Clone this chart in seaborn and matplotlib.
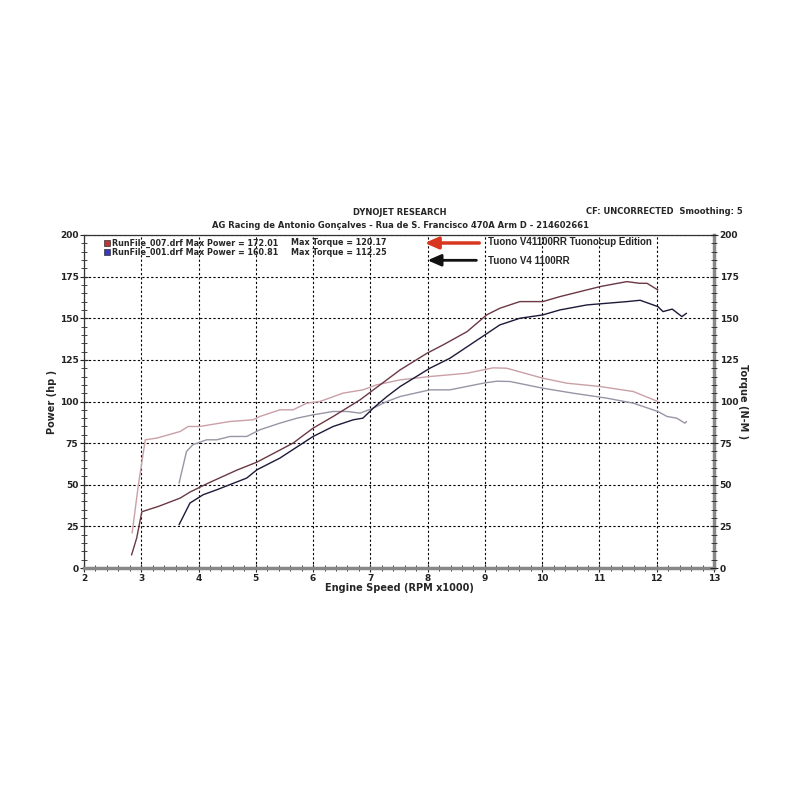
import numpy as np
import pandas as pd
import matplotlib
matplotlib.use("Agg")
import matplotlib.pyplot as plt
from matplotlib.ticker import MultipleLocator
import seaborn as sns

# RunFile_007 (red) - power and torque, rpm x1000
rpm_007_power = [2.83, 2.92, 3.01, 3.3, 3.68, 3.85, 4.17, 4.67, 5.02, 5.65, 6.0, 6.35, 6.82, 7.17,
                 7.52, 7.99, 8.27, 8.69, 9.03, 9.26, 9.61, 10.01, 10.31, 10.66, 11.01, 11.24,
                 11.48, 11.7, 11.83, 12.02]
power_007 = [7.8, 18, 33.8, 37, 42, 45.6, 51, 58.8, 63.6, 75, 84, 91, 101, 110,
             119, 129, 134, 142, 152, 156, 160, 160, 163, 166, 169, 170.5,
             172.0, 171, 171, 167]
rpm_007_torque = [2.84, 2.95, 3.07, 3.27, 3.68, 3.82, 4.02, 4.55, 4.95, 5.07, 5.42, 5.65, 5.89,
                  6.12, 6.52, 6.87, 7.11, 7.52, 8.04, 8.69, 9.14, 9.38, 10.01, 10.43, 11.01,
                  11.59, 12.02]
torque_007 = [21, 50, 77, 78, 82, 85, 85, 88, 89, 91, 95, 95, 99,
              100, 105, 107, 110, 113, 115, 117, 120.2, 120, 114, 111, 109,
              106, 100]

# RunFile_001 (blue) - power and torque
rpm_001_power = [3.66, 3.85, 4.08, 4.32, 4.84, 5.02, 5.42, 6.0, 6.35, 6.7, 6.87, 7.05, 7.29,
                 7.52, 8.04, 8.39, 9.0, 9.26, 9.61, 10.01, 10.31, 10.78, 11.13, 11.48, 11.71,
                 12.02, 12.11, 12.27, 12.44, 12.52]
power_001 = [26, 39, 44, 47, 54, 59, 66, 79, 85, 89, 90, 96, 103,
             109, 120, 126, 140, 146, 150, 152, 155, 158, 159, 160, 160.8,
             157, 154, 155.5, 151, 153]
rpm_001_torque = [3.66, 3.79, 3.9, 4.14, 4.32, 4.55, 4.84, 5.07, 5.42, 5.72, 6.0, 6.35, 6.6,
                  6.82, 7.05, 7.29, 7.52, 8.04, 8.39, 8.97, 9.21, 9.44, 10.01, 10.54, 11.13,
                  11.59, 12.02, 12.18, 12.35, 12.49, 12.52]
torque_001 = [51, 70, 74, 77, 77, 79, 79, 83, 87, 90, 92, 94, 94,
              93, 96, 100, 103, 107, 107, 111, 112.2, 112, 108, 105, 102,
              99, 94, 91, 90, 87, 88]

xticks = list(range(2, 14))
yticks = [0, 25, 50, 75, 100, 125, 150, 175, 200]

sns.set_style("white")
plt.rcParams['font.family'] = ['DejaVu Sans']

fig = plt.figure(figsize=(8, 8), dpi=100)
ax = fig.add_axes([0.105, 0.29, 0.7875, 0.41625])

sns.lineplot(x=rpm_007_torque, y=torque_007, ax=ax, color="#c8a0a6", lw=1.0, sort=False, estimator=None)
sns.lineplot(x=rpm_001_torque, y=torque_001, ax=ax, color="#9a94a4", lw=1.0, sort=False, estimator=None)
sns.lineplot(x=rpm_007_power, y=power_007, ax=ax, color="#6a3844", lw=1.0, sort=False, estimator=None)
sns.lineplot(x=rpm_001_power, y=power_001, ax=ax, color="#1c1a38", lw=1.0, sort=False, estimator=None)

ax.set_xlim(2, 13)
ax.set_ylim(0, 200)
ax.set_xticks(xticks)
ax.set_yticks(yticks)
ax.xaxis.set_minor_locator(MultipleLocator(0.2))
ax.yaxis.set_minor_locator(MultipleLocator(5))
ax.grid(True, which="major", color="black", linestyle=(0, (2, 2)), lw=0.8)
ax.tick_params(axis="both", which="major", direction="inout", length=6, width=0.8,
               labelsize=6.5, left=True, bottom=True, pad=1)
ax.tick_params(axis="both", which="minor", direction="inout", length=4, width=0.6,
               left=True, bottom=True)
for lab in ax.get_xticklabels() + ax.get_yticklabels():
    lab.set_fontweight("bold")
    lab.set_color("#222222")

for s in ["left", "top"]:
    ax.spines[s].set_color("#333333")
    ax.spines[s].set_linewidth(0.9)
for s in ["bottom", "right"]:
    ax.spines[s].set_color("#888888")
    ax.spines[s].set_linewidth(2.5)

ax2 = ax.twinx()
ax2.set_ylim(0, 200)
ax2.set_yticks(yticks)
ax2.yaxis.set_minor_locator(MultipleLocator(5))
ax2.tick_params(axis="y", which="major", direction="inout", length=6, width=0.8,
                labelsize=6.5, right=True, pad=1)
ax2.tick_params(axis="y", which="minor", direction="inout", length=4, width=0.6, right=True)
for lab in ax2.get_yticklabels():
    lab.set_fontweight("bold")
    lab.set_color("#222222")
for s in ax2.spines.values():
    s.set_visible(False)

ax.set_xlabel("Engine Speed (RPM x1000)", fontsize=7, fontweight="bold", labelpad=0)
ax.set_ylabel("Power (hp )", fontsize=7, fontweight="bold", labelpad=2)
ax2.set_ylabel("Torque (N-M )", fontsize=7, fontweight="bold", rotation=-90, labelpad=7)

# header
fig.text(0.5, 0.734, "DYNOJET RESEARCH", ha="center", va="center", fontsize=6, fontweight="bold")
fig.text(0.5, 0.718, "AG Racing de Antonio Gonçalves - Rua de S. Francisco 470A Arm D - 214602661",
         ha="center", va="center", fontsize=6, fontweight="bold")
fig.text(0.929, 0.735, "CF: UNCORRECTED  Smoothing: 5", ha="right", va="center",
         fontsize=6, fontweight="bold")

# legend block
legend_rows = [("#b83838", "RunFile_007.drf Max Power = 172.01", "Max Torque = 120.17"),
               ("#3838b8", "RunFile_001.drf Max Power = 160.81", "Max Torque = 112.25")]
for i, (c, t1, t2) in enumerate(legend_rows):
    yy = 0.976 - i * 0.028
    ax.scatter([0.036], [yy], transform=ax.transAxes, marker="s", s=18, color=c,
               edgecolor="#333333", linewidth=0.5, zorder=5, clip_on=False)
    ax.text(0.045, yy, t1, transform=ax.transAxes, fontsize=5.8, fontweight="bold", va="center")
    ax.text(0.329, yy, t2, transform=ax.transAxes, fontsize=5.8, fontweight="bold", va="center")

# annotation arrows
ax.annotate("", xy=(7.9, 195.2), xytext=(8.95, 195.2),
            arrowprops=dict(arrowstyle="-|>,head_length=0.8,head_width=0.35", color="#d8361e", lw=2.5))
ax.annotate("", xy=(7.95, 184.8), xytext=(8.9, 184.8),
            arrowprops=dict(arrowstyle="-|>,head_length=0.8,head_width=0.35", color="#111111", lw=2.0))
ax.text(9.05, 195.5, "Tuono V41100RR Tuonocup Edition", fontsize=7, fontweight="bold",
        family="Liberation Sans", va="center")
ax.text(9.05, 184.5, "Tuono V4 1100RR", fontsize=7, fontweight="bold",
        family="Liberation Sans", va="center")

fig.savefig("out.png", dpi=100, facecolor="white")
